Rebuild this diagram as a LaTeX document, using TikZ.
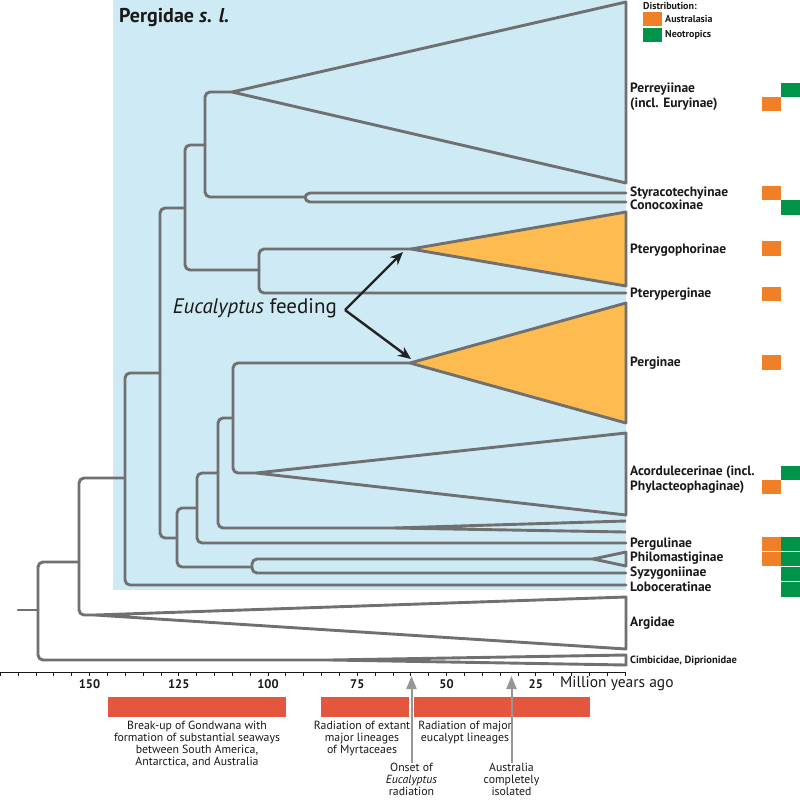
\documentclass[tikz,border=0pt]{standalone}
\usepackage{fontspec}
\setmainfont{PT Sans}
\usetikzlibrary{arrows.meta}
\definecolor{bgblue}{RGB}{206,234,245}
\definecolor{treegray}{RGB}{112,112,112}
\definecolor{triorange}{RGB}{253,187,80}
\definecolor{distorange}{RGB}{240,128,40}
\definecolor{distgreen}{RGB}{0,148,72}
\definecolor{barred}{RGB}{228,86,62}
\definecolor{arrowdark}{RGB}{35,35,35}
\definecolor{arrowgray}{RGB}{150,150,150}
\definecolor{txt}{RGB}{25,25,25}
\begin{document}
\begin{tikzpicture}[x=1pt,y=-1pt,
  tree/.style={draw=treegray,line width=2.9pt,rounded corners=5pt,line join=round,line cap=round},
  clade/.style={draw=treegray,line width=2.9pt,line join=round},
  lab/.style={anchor=west,inner sep=0pt,text=txt,font=\fontsize{13.5}{15}\selectfont\bfseries},
  ticklab/.style={anchor=center,inner sep=0pt,text=txt,font=\fontsize{12.5}{14}\selectfont\bfseries},
  note/.style={anchor=north,inner sep=0pt,align=center,text=txt,font=\fontsize{11.8}{12}\selectfont},
  orsq/.style={fill=distorange},
  grsq/.style={fill=distgreen},
  feed/.style={draw=arrowdark,line width=2.4pt,-{Stealth[length=13pt,width=11pt]}},
  garrow/.style={draw=arrowgray,line width=2pt,-{Triangle[length=13pt,width=10pt]}}
]
\useasboundingbox (0,0) rectangle (800,800);
\fill[white] (0,0) rectangle (800,800);
% blue background of Pergidae
\fill[bgblue] (113,0) rectangle (626,590);
\node[anchor=west,inner sep=0pt,text=txt,font=\fontsize{20}{24}\selectfont\bfseries] (title) at (119,18) {Pergidae \textit{s. l.}};

% coordinates of clade apices
\coordinate (aPerr) at (232,92);
\coordinate (aStyr) at (305,197);
\coordinate (aPtg) at (411,249);
\coordinate (aPerg) at (410,363);
\coordinate (aAcor) at (256,473);
\coordinate (aPhyl) at (393,528);
\coordinate (aPhil) at (593,559);
\coordinate (aArg) at (95,615);
\coordinate (aCimb) at (330,660);

% clades (triangles)
\filldraw[clade,fill=bgblue] (626,2) -- (aPerr) -- (626,183) -- cycle;
\filldraw[clade,fill=triorange] (626,212) -- (aPtg) -- (626,286) -- cycle;
\filldraw[clade,fill=triorange] (626,303) -- (aPerg) -- (626,423) -- cycle;
\filldraw[clade,fill=bgblue] (626,433) -- (aAcor) -- (626,515) -- cycle;
\draw[clade] (626,521) -- (aPhyl) -- (626,532);
\draw[clade] (626,552) -- (aPhil) -- (626,566) -- cycle;
\draw[clade] (626,597) -- (aArg) -- (626,649) -- cycle;
\draw[clade] (626,655) -- (aCimb) -- (626,665) -- cycle;

% tree branches
\draw[tree] (626,193) -- (305,193) -- (305,202) -- (626,202);
\draw[tree] (aPerr) -- (205,92) -- (205,197) -- (aStyr);
\draw[tree] (205,145) -- (185,145) -- (185,270) -- (259,270);
\draw[tree] (aPtg) -- (259,249) -- (259,293) -- (626,293);
\draw[tree] (185,208) -- (160,208) -- (160,538) -- (177,538);
\draw[tree] (aPerg) -- (233,363) -- (233,473) -- (aAcor);
\draw[tree] (233,418) -- (218,418) -- (218,528) -- (aPhyl);
\draw[tree] (218,473) -- (197,473) -- (197,543) -- (626,543);
\draw[tree] (197,508) -- (177,508) -- (177,567) -- (252,567);
\draw[tree] (aPhil) -- (252,559) -- (252,573) -- (626,573);
\draw[tree] (160,373) -- (125,373) -- (125,585) -- (626,585);
\draw[tree] (125,478) -- (79,478) -- (79,615) -- (aArg);
\draw[tree] (79,562) -- (38,562) -- (38,660) -- (aCimb);
\draw[tree] (18,610) -- (38,610);

% Eucalyptus feeding
\node[anchor=east,inner sep=0pt,text=txt,font=\fontsize{21}{24}\selectfont] (feedtxt) at (337,308) {\textit{Eucalyptus} feeding};
\coordinate (fork) at (345,310);
\coordinate (tipA) at (403,252);
\coordinate (tipB) at (411,359);
\draw[feed] (fork) -- (tipA);
\draw[feed] (fork) -- (tipB);

% clade labels
\node[lab] (lPerr) at (630,97) [align=left] {Perreyiinae\\(incl. Euryinae)};
\node[lab] (lStyr) at (630,193) {Styracotechyinae};
\node[lab] (lCono) at (630,205) {Conocoxinae};
\node[lab] (lPtg) at (630,250) {Pterygophorinae};
\node[lab] (lPtp) at (630,294) {Pteryperginae};
\node[lab] (lPerg) at (630,363) {Perginae};
\node[lab] (lAcor) at (630,480) [align=left] {Acordulecerinae (incl.\\Phylacteophaginae)};
\node[lab] (lPgl) at (630,544) {Pergulinae};
\node[lab] (lPhil) at (630,558) {Philomastiginae};
\node[lab] (lSyz) at (630,573) {Syzygoniinae};
\node[lab] (lLob) at (630,587) {Loboceratinae};
\node[lab] (lArg) at (630,623) {Argidae};
\node[lab,font=\fontsize{10.5}{12}\selectfont\bfseries] (lCimb) at (630,661) {Cimbicidae, Diprionidae};

% legend
\node[anchor=west,inner sep=0pt,text=txt,font=\fontsize{10}{11}\selectfont\bfseries] (legt) at (643,6) {Distribution:};
\fill[orsq] (643,12) rectangle (662,26);
\fill[grsq] (643,28) rectangle (662,42);
\node[anchor=west,inner sep=0pt,text=txt,font=\fontsize{10}{11}\selectfont\bfseries] (lega) at (665,19) {Australasia};
\node[anchor=west,inner sep=0pt,text=txt,font=\fontsize{10}{11}\selectfont\bfseries] (legn) at (665,35) {Neotropics};

% distribution squares
\fill[grsq] (781,83) rectangle (800,97);
\fill[orsq] (762,97) rectangle (781,111);
\fill[orsq] (762,186) rectangle (781,200);
\fill[grsq] (781,200) rectangle (800,215);
\fill[orsq] (762,241) rectangle (781,256);
\fill[orsq] (762,287) rectangle (781,301);
\fill[orsq] (762,355) rectangle (781,370);
\fill[grsq] (781,466) rectangle (800,480);
\fill[orsq] (762,480) rectangle (781,494);
\fill[orsq] (762,537) rectangle (781,551);
\fill[grsq] (781,537) rectangle (800,551);
\fill[orsq] (762,552) rectangle (781,566);
\fill[grsq] (781,552) rectangle (800,566);
\fill[grsq] (781,567) rectangle (800,581);
\fill[grsq] (781,582) rectangle (800,597);

% time axis
\draw[line width=1pt,draw=txt] (0,672) -- (626,672);
\foreach \t in {0,5,...,175} {
  \draw[line width=0.8pt,draw=txt] ({625-3.57*\t},672) -- ({625-3.57*\t},676);
}
\foreach \t in {150,125,100,75,50,25} {
  \node[ticklab] at ({625-3.57*\t},684) {\t};
}
\node[anchor=west,inner sep=0pt,text=txt,font=\fontsize{15.5}{17}\selectfont] (mya) at (560,684) {Million years ago};

% event bars
\fill[barred] (108,697) rectangle (286,717);
\fill[barred] (321,697) rectangle (409,717);
\fill[barred] (414,697) rectangle (590,717);

\node[note] (n1) at (197,721) {Break-up of Gondwana with\\formation of substantial seaways\\between South America,\\Antarctica, and Australia};
\node[note] (n2) at (362,721) {Radiation of extant\\major lineages\\of Myrtaceaes};
\node[note] (n3) at (465,721) {Radiation of major\\eucalypt lineages};
\node[note] (n4) at (411.5,763) {Onset of\\\textit{Eucalyptus}\\radiation};
\node[note] (n5) at (511.5,763) {Australia\\completely\\isolated};

\coordinate (t1) at (411.5,676);
\coordinate (t2) at (511.5,676);
\draw[garrow] (n4.north) -- (t1);
\draw[garrow] (n5.north) -- (t2);
\end{tikzpicture}
\end{document}
